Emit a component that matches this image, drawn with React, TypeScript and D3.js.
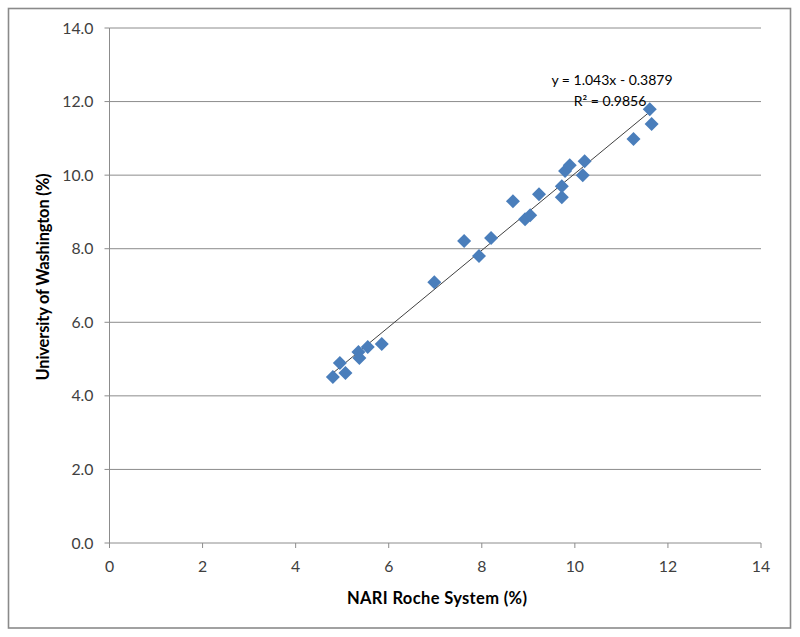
import React from "react";
import * as d3 from "d3";

const xValues = [4.80, 4.95, 5.07, 5.35, 5.37, 5.55, 5.85, 6.98, 7.62, 7.94, 8.20, 8.67, 8.93, 9.04, 9.23, 9.72, 9.72, 9.79, 9.89, 10.17, 10.21, 11.26, 11.61, 11.65];
const yValues = [4.51, 4.89, 4.62, 5.19, 5.03, 5.33, 5.41, 7.09, 8.21, 7.80, 8.29, 9.29, 8.80, 8.91, 9.48, 9.70, 9.40, 10.11, 10.27, 10.00, 10.38, 10.98, 11.79, 11.39];
const xTicks = [0, 2, 4, 6, 8, 10, 12, 14];
const yTicks = [0, 2, 4, 6, 8, 10, 12, 14];
const slope = 1.043;
const intercept = -0.3879;
const eqText = "y = 1.043x - 0.3879";
const r2Text = "R² = 0.9856";
const xTitle = "NARI Roche System (%)";
const yTitle = "University of Washington (%)";

export default function App() {
  const W = 800, H = 637;
  const x = d3.scaleLinear().domain([0, 14]).range([109.5, 761]);
  const y = d3.scaleLinear().domain([0, 14]).range([543, 28]);
  const font = "Lato, 'Liberation Sans', sans-serif";
  const xMin = d3.min(xValues) as number;
  const xMax = d3.max(xValues) as number;
  const line = d3.line<number>().x(d => x(d)).y(d => y(slope * d + intercept));
  const diamond = d3.symbol().type(d3.symbolDiamond2).size(125)();
  return (
    <svg width={W} height={H} style={{ position: "absolute", left: 0, top: 0 }}>
      <rect x={0} y={0} width={W} height={H} fill="#fff" />
      <rect x={8.5} y={8.5} width={782} height={619.5} fill="none" stroke="#8a8a8a" strokeWidth={1.6} />
      {yTicks.map(t => (
        <g key={"y" + t}>
          <line x1={x(0)} x2={x(14)} y1={y(t)} y2={y(t)} stroke="#8c8c8c" strokeWidth={1} />
          <line x1={x(0) - 5} x2={x(0)} y1={y(t)} y2={y(t)} stroke="#8c8c8c" strokeWidth={1} />
          <text x={93.5} y={y(t)} dy="0.35em" textAnchor="end" fontFamily={font} fontSize={15.8} fill="#404040">{t.toFixed(1)}</text>
        </g>
      ))}
      <line x1={x(0)} x2={x(0)} y1={y(14)} y2={y(0)} stroke="#8c8c8c" strokeWidth={1} />
      {xTicks.map(t => (
        <g key={"x" + t}>
          <line x1={x(t)} x2={x(t)} y1={y(0)} y2={y(0) + 5} stroke="#8c8c8c" strokeWidth={1} />
          <text x={x(t)} y={572} textAnchor="middle" fontFamily={font} fontSize={15.8} fill="#404040">{t}</text>
        </g>
      ))}
      <path d={line([xMin, xMax]) || ""} stroke="#404040" strokeWidth={1} fill="none" />
      {xValues.map((xv, i) => (
        <path key={"p" + i} d={diamond} transform={`translate(${x(xv)},${y(yValues[i])})`} fill="#4a7ebb" />
      ))}
      <text x={612} y={85} textAnchor="middle" fontFamily={font} fontSize={14} fill="#000">{eqText}</text>
      <text x={610} y={106} textAnchor="middle" fontFamily={font} fontSize={14} fill="#000">{r2Text}</text>
      <text x={437} y={604} textAnchor="middle" fontFamily={font} fontSize={16.5} fontWeight="bold" fill="#000" textLength={180} lengthAdjust="spacing">{xTitle}</text>
      <text transform={`translate(49,277) rotate(-90)`} textAnchor="middle" fontFamily={font} fontSize={16.5} fontWeight="bold" fill="#000" textLength={207} lengthAdjust="spacing">{yTitle}</text>
    </svg>
  );
}
